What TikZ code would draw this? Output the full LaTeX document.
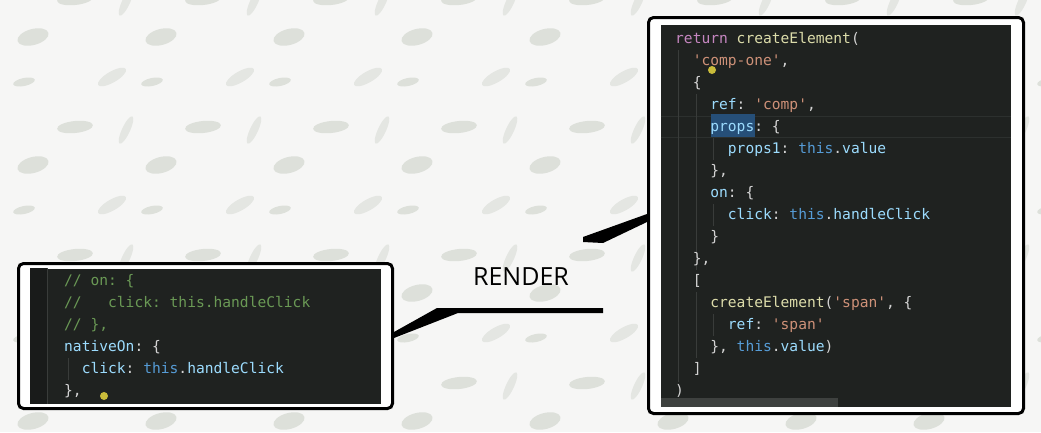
\documentclass[tikz,border=0pt]{standalone}
\usepackage{fontspec}
\setsansfont{Open Sans}
\setmonofont{DejaVu Sans Mono}
\usepackage{tikz, xcolor}
\usetikzlibrary{calc}

\definecolor{paper}{HTML}{F6F6F5}
\definecolor{leafgrey}{HTML}{DDE0DA}
\definecolor{feathergrey}{HTML}{E4E6E2}
\definecolor{panelbg}{HTML}{1F2220}
\definecolor{gutter}{HTML}{191B1A}
\definecolor{guide}{HTML}{393C3A}
\definecolor{curline}{HTML}{2C302E}
\definecolor{punct}{HTML}{D4D4D4}
\definecolor{kwcol}{HTML}{C586C0}
\definecolor{fncol}{HTML}{DCDCAA}
\definecolor{strcol}{HTML}{CE9178}
\definecolor{propcol}{HTML}{9CDCFE}
\definecolor{thiscol}{HTML}{569CD6}
\definecolor{cmtcol}{HTML}{6A9955}
\definecolor{selcol}{HTML}{264F78}
\definecolor{scrollcol}{HTML}{3E413F}
\definecolor{cursorcol}{HTML}{C9BC3A}

\newcommand\codefont{\ttfamily\fontsize{14.6}{22}\selectfont}
\newcommand\ckw[1]{\textcolor{kwcol}{#1}}
\newcommand\cfn[1]{\textcolor{fncol}{#1}}
\newcommand\cstr[1]{\textcolor{strcol}{#1}}
\newcommand\cprop[1]{\textcolor{propcol}{#1}}
\newcommand\cthis[1]{\textcolor{thiscol}{#1}}
\newcommand\ccmt[1]{\textcolor{cmtcol}{#1}}

\begin{document}
\begin{tikzpicture}[x=1pt, y=-1pt,
    box/.style={draw=black, line width=3pt, fill=white, rounded corners=5pt, inner sep=0pt},
    panel/.style={fill=panelbg, inner sep=0pt},
    code/.style={font=\codefont, text=punct, align=left, inner sep=0pt, anchor=north west},
    leaf/.style={fill=leafgrey},
    feather/.style={fill=feathergrey},
    guideline/.style={draw=guide, line width=0.8pt},
    pointer/.style={fill=black}]

    \fill[paper] (0,0) rectangle (1041,432);
    \useasboundingbox (0,0) rectangle (1041,432);

    % paper pattern
    \foreach \i in {0,...,8}
    \foreach \j in {-1,...,3} {
        \begin{scope}[shift={(\i*128,\j*128)}]
            \fill[leaf, rotate around={15:(33,37)}] (33,37) ellipse [x radius=16, y radius=8];
            \fill[feather, rotate around={30:(112,77)}] (112,77) ellipse [x radius=16, y radius=5.5];
            \fill[leaf, rotate around={12:(24,82)}] (24,82) ellipse [x radius=11, y radius=4];
            \fill[leaf, rotate around={6:(75,127)}] (75,127) ellipse [x radius=18, y radius=6];
            \fill[feather, rotate around={65:(126,130)}] (126,130) ellipse [x radius=15, y radius=4];
        \end{scope}
    }

    \node[box, minimum width=374pt, minimum height=145pt] (codeL) at (205.5,336) {};
    \node[box, minimum width=375pt, minimum height=396pt] (codeR) at (836,215.5) {};

    \node[panel, minimum width=351pt, minimum height=135pt] (panelL) at (codeL.center) {};
    \node[panel, minimum width=350pt, minimum height=382pt] (panelR) at (836,216) {};

    \fill[gutter] (panelL.north west) rectangle ($(panelL.south west)+(17,0)$);
    \draw[guideline] ($(panelL.north west)+(18,0)$) -- ($(panelL.south west)+(18,0)$);
    \draw[guideline] (68,358) -- (68,380);

    \draw[curline, line width=1pt] (panelR.west |- 0,116) -- (panelR.east |- 0,116);
    \draw[curline, line width=1pt] (panelR.west |- 0,137) -- (panelR.east |- 0,137);
    \fill[selcol] (711,114) rectangle (755,137);
    \draw[guideline] (678,50) -- (678,382);
    \draw[guideline] (696,94) -- (696,270);
    \draw[guideline] (696,292) -- (696,358);
    \draw[guideline] (713,138) -- (713,160);
    \draw[guideline] (713,204) -- (713,226);
    \draw[guideline] (713,314) -- (713,336);
    \fill[scrollcol] (panelR.south west) rectangle (838,398);

    \node[code] (textL) at (64,269.6) {\strut\ccmt{// on: \{}\\
\ccmt{//~~~click: this.handleClick}\\
\ccmt{// \},}\\
\cprop{nativeOn}: \{\\
~~\cprop{click}: \cthis{this}.\cprop{handleClick}\\
\},};

    \node[code] (textR) at (675,27.6) {\strut\ckw{return} \cfn{createElement}(\\
~~\cstr{'comp-one'},\\
~~\{\\
~~~~\cprop{ref}: \cstr{'comp'},\\
~~~~\cprop{props}: \{\\
~~~~~~\cprop{props1}: \cthis{this}.\cprop{value}\\
~~~~\},\\
~~~~\cprop{on}: \{\\
~~~~~~\cprop{click}: \cthis{this}.\cprop{handleClick}\\
~~~~\}\\
~~\},\\
~~[\\
~~~~\cfn{createElement}(\cstr{'span'}, \{\\
~~~~~~\cprop{ref}: \cstr{'span'}\\
~~~~\}, \cthis{this}.\cprop{value})\\
~~]\\
)};

    \fill[cursorcol] (104,396) circle [radius=4];
    \fill[cursorcol] (712,70) circle [radius=4];

    \node[font=\sffamily\fontsize{25}{30}\selectfont, anchor=base, inner sep=0pt] (render) at (521,285) {RENDER};

    \coordinate (tipR) at (583,237);
    \coordinate (tipL) at (603,308);
    \fill[pointer] ($(codeR.west)+(0,-1.5)$) -- (tipR) -- ($(tipR)+(0,5)$) -- ($(tipR)+(20,6)$) -- ($(codeR.west)+(0,6.5)$) -- cycle;
    \fill[pointer] ($(codeL.east)+(0,-4)$) -- (437,308) -- (tipL) -- ($(tipL)+(0,5)$) -- (458,313) -- ($(codeL.east)+(0,2)$) -- cycle;
\end{tikzpicture}
\end{document}
